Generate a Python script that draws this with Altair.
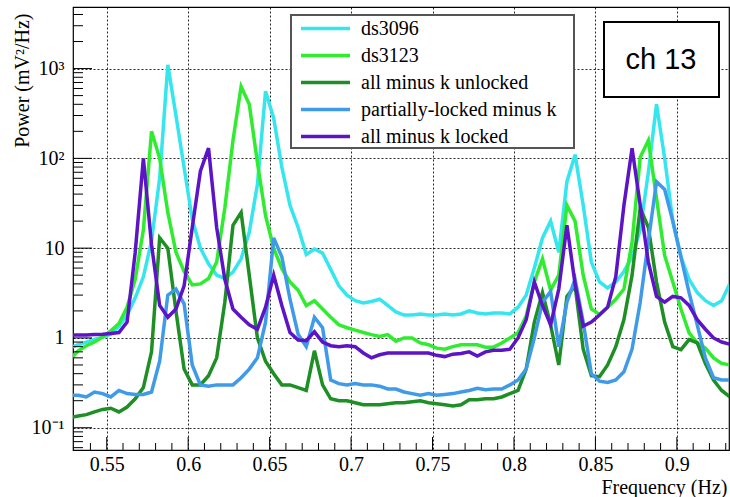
import altair as alt
import pandas as pd

# ---------------- data ----------------
freq = [0.5275, 0.5325, 0.5375, 0.5425, 0.5475, 0.5525, 0.5575, 0.5625, 0.5675, 0.5725,
        0.5775, 0.5825, 0.5875, 0.5925, 0.5975, 0.6025, 0.6075, 0.6125, 0.6175, 0.6225,
        0.6275, 0.6325, 0.6375, 0.6425, 0.6475, 0.6525, 0.6575, 0.6625, 0.6675, 0.6725,
        0.6775, 0.6825, 0.6875, 0.6925, 0.6975, 0.7025, 0.7075, 0.7125, 0.7175, 0.7225,
        0.7275, 0.7325, 0.7375, 0.7425, 0.7475, 0.7525, 0.7575, 0.7625, 0.7675, 0.7725,
        0.7775, 0.7825, 0.7875, 0.7925, 0.7975, 0.8025, 0.8075, 0.8125, 0.8175, 0.8225,
        0.8275, 0.8325, 0.8375, 0.8425, 0.8475, 0.8525, 0.8575, 0.8625, 0.8675, 0.8725,
        0.8775, 0.8825, 0.8875, 0.8925, 0.8975, 0.9025, 0.9075, 0.9125, 0.9175, 0.9225,
        0.9275, 0.9325]

ds3096 = [0.78, 0.84, 0.9, 0.96, 1.02, 1.1, 1.35, 1.8, 2.8, 4.8,
          12, 60, 1100, 300, 79, 21, 10, 6.7, 5, 4.6,
          5.4, 7.6, 15, 51, 560, 280, 80, 30, 17, 8.5,
          9.8, 8.8, 5.8, 3.8, 3.0, 2.6, 2.45, 2.55, 2.7, 2.3,
          1.95, 1.8, 1.8, 1.85, 1.8, 1.8, 1.85, 1.8, 1.85, 2.0,
          1.9, 1.85, 1.9, 1.9, 1.85, 2.2, 3.0, 6, 13, 20,
          9, 55, 110, 30, 7, 4.2, 3.6, 4.2, 5.5, 8,
          16, 70, 400, 100, 20, 8, 4.5, 3.2, 2.6, 2.3,
          2.6, 4]

ds3123 = [0.58, 0.72, 0.82, 0.9, 1.02, 1.2, 1.45, 2.2, 4.5, 16,
          200, 100, 25, 9, 5.5, 3.9, 4.0, 4.6, 7, 28,
          158, 630, 400, 90, 23, 10, 5.9, 4.2, 3.4, 2.3,
          2.6, 2.1, 1.7, 1.4, 1.3, 1.22, 1.15, 1.09, 1.04, 1.09,
          0.92, 1.0, 1.0, 0.88, 0.84, 0.77, 0.75, 0.8, 0.84, 0.84,
          0.84, 0.79, 0.79, 0.88, 1.0, 1.14, 1.75, 4.2, 7.6, 3.4,
          5, 30, 20, 5, 2.1, 1.83, 2.2, 2.7, 3.5, 11.8,
          103, 158, 36, 8.3, 4.2, 2.1, 1.14, 0.88, 0.77, 0.6,
          0.52, 0.5]

unlocked = [0.13, 0.135, 0.14, 0.15, 0.16, 0.165, 0.15, 0.17, 0.21, 0.28,
            0.7, 13, 10, 2.0, 0.45, 0.3, 0.3, 0.38, 0.6, 2.5,
            18, 25, 5, 1.0, 0.55, 0.4, 0.3, 0.3, 0.28, 0.26,
            0.72, 0.3, 0.21, 0.2, 0.2, 0.19, 0.18, 0.18, 0.18, 0.185,
            0.19, 0.19, 0.195, 0.2, 0.19, 0.185, 0.18, 0.175, 0.18, 0.205,
            0.205, 0.21, 0.21, 0.22, 0.24, 0.26, 0.45, 1.5, 3.2, 1.4,
            0.5, 2.9, 3.8, 0.75, 0.38, 0.37, 0.5, 0.8, 1.6, 5,
            28, 17, 4.2, 1.5, 0.8, 0.74, 0.96, 0.88, 0.52, 0.34,
            0.26, 0.22]

partial = [0.23, 0.23, 0.22, 0.25, 0.24, 0.22, 0.26, 0.24, 0.235, 0.235,
           0.25, 0.55, 3.0, 3.5, 2.4, 0.5, 0.3, 0.29, 0.3, 0.3,
           0.3, 0.36, 0.45, 0.6, 1.5, 13, 8, 2.7, 1.1, 0.8,
           1.7, 1.3, 0.34, 0.31, 0.3, 0.31, 0.3, 0.3, 0.29, 0.27,
           0.27, 0.25, 0.24, 0.23, 0.24, 0.23, 0.235, 0.24, 0.25, 0.26,
           0.275, 0.265, 0.27, 0.27, 0.3, 0.34, 0.45, 1.0, 2.5, 3.3,
           0.8, 2.5, 4.5, 1.5, 0.4, 0.33, 0.32, 0.34, 0.42, 0.75,
           2.5, 12, 55, 45, 20, 8, 3.2, 1.4, 0.6, 0.36,
           0.34, 0.34]

locked = [1.08, 1.08, 1.08, 1.09, 1.1, 1.12, 1.15, 1.5, 9, 100,
          11, 2.3, 1.7, 2.1, 3.8, 17, 72, 130, 17, 4.5,
          2.1, 1.7, 1.4, 1.25, 2.2, 5, 2.3, 1.15, 0.95, 0.93,
          1.17, 0.9, 0.82, 0.8, 0.82, 0.8, 0.68, 0.6, 0.65, 0.68,
          0.68, 0.68, 0.68, 0.68, 0.68, 0.64, 0.62, 0.66, 0.67, 0.7,
          0.63, 0.7, 0.73, 0.73, 0.75, 1.0, 1.6, 4.2, 2.3, 1.4,
          3.5, 18, 4, 1.35, 1.5, 1.8, 2.2, 4.8, 30, 130,
          30, 7, 2.9, 2.5, 2.9, 2.8, 2.3, 1.6, 1.25, 1.0,
          0.9, 0.85]

series_names = ["ds3096", "ds3123", "all minus k unlocked",
                "partially-locked minus k", "all minus k locked"]
series_values = [ds3096, ds3123, unlocked, partial, locked]
series_colors = ["#35e6ef", "#2fec2f", "#1e8f24", "#3f9be9", "#5c14c6"]

x_major_ticks = [0.55, 0.6, 0.65, 0.7, 0.75, 0.8, 0.85, 0.9]
x_minor_ticks = [0.54, 0.56, 0.57, 0.58, 0.59, 0.61, 0.62, 0.63, 0.64, 0.66, 0.67, 0.68,
                 0.69, 0.71, 0.72, 0.73, 0.74, 0.76, 0.77, 0.78, 0.79, 0.81, 0.82, 0.83,
                 0.84, 0.86, 0.87, 0.88, 0.89, 0.91, 0.92, 0.93]
y_major_ticks = [0.1, 1, 10, 100, 1000]
y_minor_ticks = [0.06, 0.07, 0.08, 0.09,
                 0.2, 0.3, 0.4, 0.5, 0.6, 0.7, 0.8, 0.9,
                 2, 3, 4, 5, 6, 7, 8, 9,
                 20, 30, 40, 50, 60, 70, 80, 90,
                 200, 300, 400, 500, 600, 700, 800, 900,
                 2000, 3000, 4000]

# ---------------- tables ----------------
rows = []
for name, vals in zip(series_names, series_values):
    for f, v in zip(freq, vals):
        rows.append({"freq": f, "power": v, "series": name})
df = pd.DataFrame(rows)

W, H = 656, 443
SERIF = "Liberation Serif"

xscale = alt.Scale(domain=[0.5293, 0.932], nice=False, zero=False)
yscale = alt.Scale(type="log", domain=[0.0565, 4850], nice=False)

x_axis = alt.Axis(values=x_major_ticks, format=".2~f", grid=True, gridDash=[2, 2],
                  gridColor="black", gridWidth=1, gridOpacity=0.85, ticks=False, domain=False,
                  labelFont=SERIF, labelFontSize=20, labelPadding=4, labelColor="black",
                  title="Frequency (Hz)", titleFont=SERIF, titleFontSize=20,
                  titleFontWeight="normal", titleColor="black", titleX=654, titleY=43,
                  titleAlign="right", titleBaseline="alphabetic", titleAnchor="end")
y_axis = alt.Axis(values=y_major_ticks,
                  labelExpr="datum.value > 500 ? '10³' : datum.value > 50 ? '10²' : "
                            "datum.value > 5 ? '10' : datum.value > 0.5 ? '1' : '10⁻¹'",
                  grid=True, gridDash=[2, 2], gridColor="black", gridWidth=1, gridOpacity=0.85,
                  ticks=False, domain=False, labelFont=SERIF, labelFontSize=20,
                  labelPadding=9, labelColor="black",
                  title="Power (mV²/Hz)", titleFont=SERIF, titleFontSize=20,
                  titleFontWeight="normal", titleColor="black", titleAngle=270,
                  titleX=-45, titleY=6, titleAlign="right", titleBaseline="alphabetic",
                  titleAnchor="end")

lines = alt.Chart(df).mark_line(strokeWidth=3.5, clip=True).encode(
    x=alt.X("freq:Q", scale=xscale, axis=x_axis),
    y=alt.Y("power:Q", scale=yscale, axis=y_axis),
    color=alt.Color("series:N", sort=series_names,
                    scale=alt.Scale(domain=series_names, range=series_colors),
                    legend=alt.Legend(orient="none", legendX=236, legendY=5, title=None,
                                      symbolType="M-1.69,0H1.69", symbolSize=841,
                                      symbolStrokeWidth=3.5, labelFont=SERIF,
                                      labelFontSize=20, labelColor="black", labelOffset=19,
                                      labelLimit=400, rowPadding=0, padding=0)),
)

xmaj = alt.Chart(pd.DataFrame({"freq": x_major_ticks})).mark_rule(color="black", strokeWidth=1).encode(
    x=alt.X("freq:Q", scale=xscale, axis=x_axis), y=alt.value(H), y2=alt.value(H - 13))
xmin = alt.Chart(pd.DataFrame({"freq": x_minor_ticks})).mark_rule(color="black", strokeWidth=1).encode(
    x=alt.X("freq:Q", scale=xscale, axis=x_axis), y=alt.value(H), y2=alt.value(H - 7))
ymaj = alt.Chart(pd.DataFrame({"power": y_major_ticks})).mark_rule(color="black", strokeWidth=1).encode(
    y=alt.Y("power:Q", scale=yscale, axis=y_axis), x=alt.value(0), x2=alt.value(19))
ymin = alt.Chart(pd.DataFrame({"power": y_minor_ticks})).mark_rule(color="black", strokeWidth=1).encode(
    y=alt.Y("power:Q", scale=yscale, axis=y_axis), x=alt.value(0), x2=alt.value(10))

one = pd.DataFrame({"k": [0]})
legend_box = alt.Chart(one).mark_rect(fill="white", stroke="#555555", strokeWidth=2).encode(
    x=alt.value(218), x2=alt.value(501), y=alt.value(8), y2=alt.value(141))
ch_box = alt.Chart(one).mark_rect(fill="white", stroke="black", strokeWidth=2).encode(
    x=alt.value(531), x2=alt.value(646), y=alt.value(15), y2=alt.value(90))
ch_text = alt.Chart(one).mark_text(text="ch 13", font="Liberation Sans", fontSize=29,
                                   align="center", baseline="middle", color="black").encode(
    x=alt.value(588), y=alt.value(53))

chart = alt.layer(lines, xmaj, xmin, ymaj, ymin, legend_box, ch_box, ch_text).properties(
    width=W, height=H,
    autosize=alt.AutoSizeParams(type="none"),
    padding={"left": 73, "top": 7, "right": 1, "bottom": 47},
    background="white",
).configure_view(stroke="black", strokeWidth=1.2)

chart.save("out.html", embed_options={"renderer": "svg", "actions": False})
